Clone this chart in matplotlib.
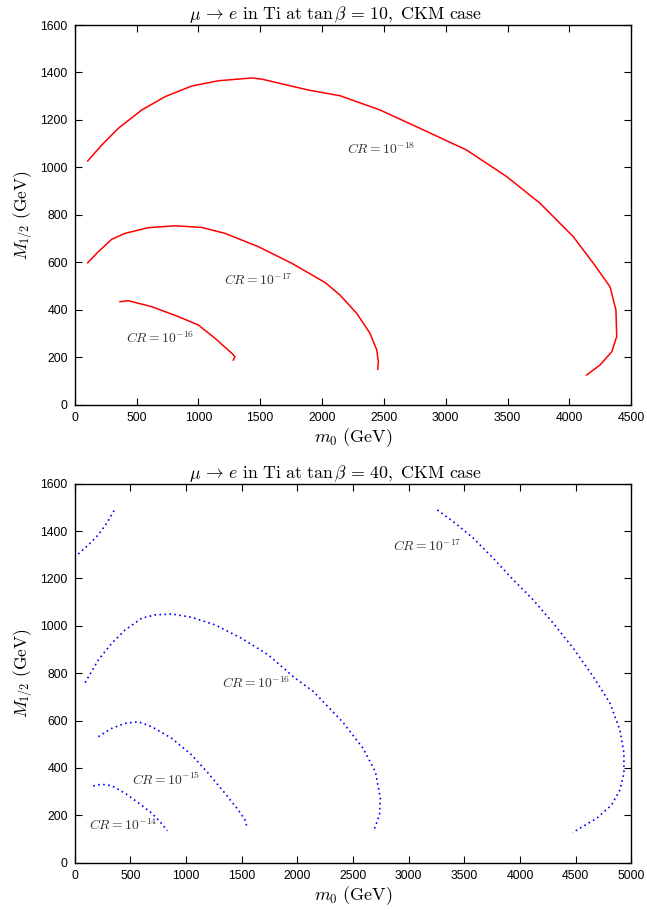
import matplotlib
matplotlib.use('Agg')
import matplotlib.pyplot as plt

plt.rcParams['mathtext.fontset'] = 'cm'
plt.rcParams['font.family'] = ['Liberation Sans', 'DejaVu Sans']

# tan beta = 10 (red, solid)
m0_18 = [105, 218, 353, 542, 730, 946, 1161, 1431, 1512, 1889, 2145, 2468, 2819,
         3169, 3493, 3762, 4031, 4193, 4328, 4376, 4382, 4342, 4247, 4139]
m12_18 = [1027, 1094, 1165, 1242, 1298, 1343, 1365, 1377, 1372, 1326, 1302, 1242, 1158,
          1073, 961, 849, 708, 596, 497, 399, 287, 223, 167, 125]
m0_17 = [105, 191, 299, 407, 595, 811, 1027, 1215, 1484, 1754, 2024, 2145, 2280,
         2387, 2442, 2455, 2450]
m12_17 = [598, 645, 697, 722, 746, 754, 747, 722, 666, 596, 515, 462, 385,
          301, 231, 181, 149]
m0_16 = [366, 434, 623, 838, 999, 1134, 1269, 1296, 1282]
m12_16 = [434, 438, 413, 371, 336, 280, 217, 202, 188]

# tan beta = 40 (blue, dotted)
b_m0_17a = [32, 122, 212, 287, 362]
b_m12_17a = [1303, 1341, 1384, 1433, 1493]
b_m0_17b = [3257, 3401, 3581, 3760, 3940, 4120, 4299, 4479, 4659, 4809, 4898,
            4934, 4934, 4898, 4824, 4689, 4473]
b_m12_17b = [1489, 1440, 1370, 1285, 1194, 1109, 1011, 905, 785, 673, 560,
             462, 377, 307, 244, 187, 127]
b_m0_16 = [93, 212, 332, 452, 602, 721, 871, 1051, 1260, 1500, 1739, 1964,
           2145, 2405, 2590, 2701, 2746, 2738, 2683]
b_m12_16 = [760, 856, 926, 982, 1032, 1046, 1050, 1036, 1004, 947, 877, 785,
            722, 595, 483, 384, 272, 201, 131]
b_m0_15 = [212, 332, 452, 571, 692, 871, 1051, 1200, 1350, 1470, 1530, 1551]
b_m12_15 = [532, 567, 588, 595, 574, 525, 455, 377, 293, 222, 180, 145]
b_m0_14 = [167, 242, 332, 452, 571, 692, 766, 832]
b_m12_14 = [324, 331, 325, 293, 253, 209, 173, 135]

labels_top = [(2204, 1076, r'$CR = 10^{-18}$'),
              (1210, 525, r'$CR = 10^{-17}$'),
              (412, 280, r'$CR = 10^{-16}$')]
labels_bot = [(2857, 1334, r'$CR = 10^{-17}$'),
              (1320, 757, r'$CR = 10^{-16}$'),
              (518, 349, r'$CR = 10^{-15}$'),
              (128, 159, r'$CR = 10^{-14}$')]


def style_axes(ax, xmax, xstep, tanb):
    ax.set_xlim(0, xmax)
    ax.set_ylim(0, 1600)
    ax.set_xticks(range(0, xmax + 1, xstep))
    ax.set_yticks(range(0, 1601, 200))
    ax.tick_params(direction='in', top=True, right=True, length=5,
                   width=0.8, labelsize=8.8, pad=5)
    for s in ax.spines.values():
        s.set_linewidth(1.0)
    ax.set_xlabel(r'$m_0\ \mathrm{(GeV)}$', fontsize=13, labelpad=2)
    ax.set_ylabel(r'$M_{1/2}\ \mathrm{(GeV)}$', fontsize=12.5, labelpad=4)
    ax.set_title(r'$\mu\, \rightarrow\, e\ \mathrm{in\ Ti\ at}\ \tan\beta\, =\, %d,\ \mathrm{CKM\ case}$' % tanb,
                 fontsize=12.8, pad=4, x=0.468)


fig = plt.figure(figsize=(6.47, 9.10), dpi=100)

ax1 = fig.add_axes([0.1155, 0.5553, 0.8602, 0.4172])
ax1.plot(m0_18, m12_18, c='#ff0000', lw=1.1)
ax1.plot(m0_17, m12_17, c='#ff0000', lw=1.1)
ax1.plot(m0_16, m12_16, c='#ff0000', lw=1.1)
for x, y, t in labels_top:
    ax1.text(x, y, t, fontsize=9.8, va='center', ha='left', color='#333333')
style_axes(ax1, 4500, 500, 10)

ax2 = fig.add_axes([0.1155, 0.0520, 0.8602, 0.4165])
for xs, ys in [(b_m0_17a, b_m12_17a), (b_m0_17b, b_m12_17b), (b_m0_16, b_m12_16),
               (b_m0_15, b_m12_15), (b_m0_14, b_m12_14)]:
    ax2.plot(xs, ys, c='#0000ff', lw=1.2, ls=(0, (1, 2)))
for x, y, t in labels_bot:
    ax2.text(x, y, t, fontsize=9.8, va='center', ha='left', color='#333333')
style_axes(ax2, 5000, 500, 40)

fig.savefig('out.png', dpi=100)
